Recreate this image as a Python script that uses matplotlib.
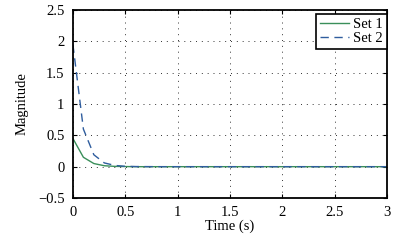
import numpy as np
import matplotlib
matplotlib.use("Agg")
import matplotlib.pyplot as plt

plt.rcParams['font.family'] = ['Liberation Serif', 'DejaVu Serif']
plt.rcParams['mathtext.fontset'] = 'stix'

# time samples (s) and the two signals
t = [0.0, 0.1, 0.2, 0.3, 0.4, 0.5, 0.6, 0.8, 1.0, 1.5, 2.0, 2.5, 3.0]
set1 = [0.45, 0.15, 0.05, 0.015, 0.005, 0.002, 0.0, 0.0, 0.0, 0.0, 0.0, 0.0, 0.0]
set2 = [1.95, 0.6, 0.19, 0.06, 0.02, 0.006, 0.002, 0.0, 0.0, 0.0, 0.0, 0.0, 0.0]

xticks = [0, 0.5, 1, 1.5, 2, 2.5, 3]
xticklabels = ['0', '0.5', '1', '1.5', '2', '2.5', '3']
yticks = [-0.5, 0, 0.5, 1, 1.5, 2, 2.5]
yticklabels = ['\u22120.5', '0', '0.5', '1', '1.5', '2', '2.5']

fig = plt.figure(figsize=(4.12, 2.4), dpi=100)
ax = fig.add_axes([0.177, 0.175, 0.762, 0.783])

ax.plot(t, set1, color='#3a8f5a', lw=1.0, label='Set 1')
ax.plot(t, set2, color='#2f5d9e', lw=1.0, ls=(0, (6, 4)), label='Set 2')

ax.set_xlim(0, 3)
ax.set_ylim(-0.5, 2.5)
ax.set_xticks(xticks)
ax.set_xticklabels(xticklabels)
ax.set_yticks(yticks)
ax.set_yticklabels(yticklabels)
ax.tick_params(direction='in', labelsize=10.5, length=3, pad=6, top=True, right=True)
ax.grid(True, color='#333333', ls=(0, (1, 5)), lw=0.7)
for s in ax.spines.values():
    s.set_linewidth(1.3)

ax.set_xlabel('Time (s)', fontsize=10.5, labelpad=0)
ax.set_ylabel('Magnitude', fontsize=10.5, labelpad=7)

leg = ax.legend(loc='upper right', fontsize=10.5, fancybox=False, framealpha=1,
                edgecolor='k', borderpad=0.25, handlelength=2.0,
                handletextpad=0.3, labelspacing=0.1, borderaxespad=0.0,
                bbox_to_anchor=(1.0, 0.98))
leg.get_frame().set_linewidth(1.2)

fig.savefig('out.png', dpi=100)
